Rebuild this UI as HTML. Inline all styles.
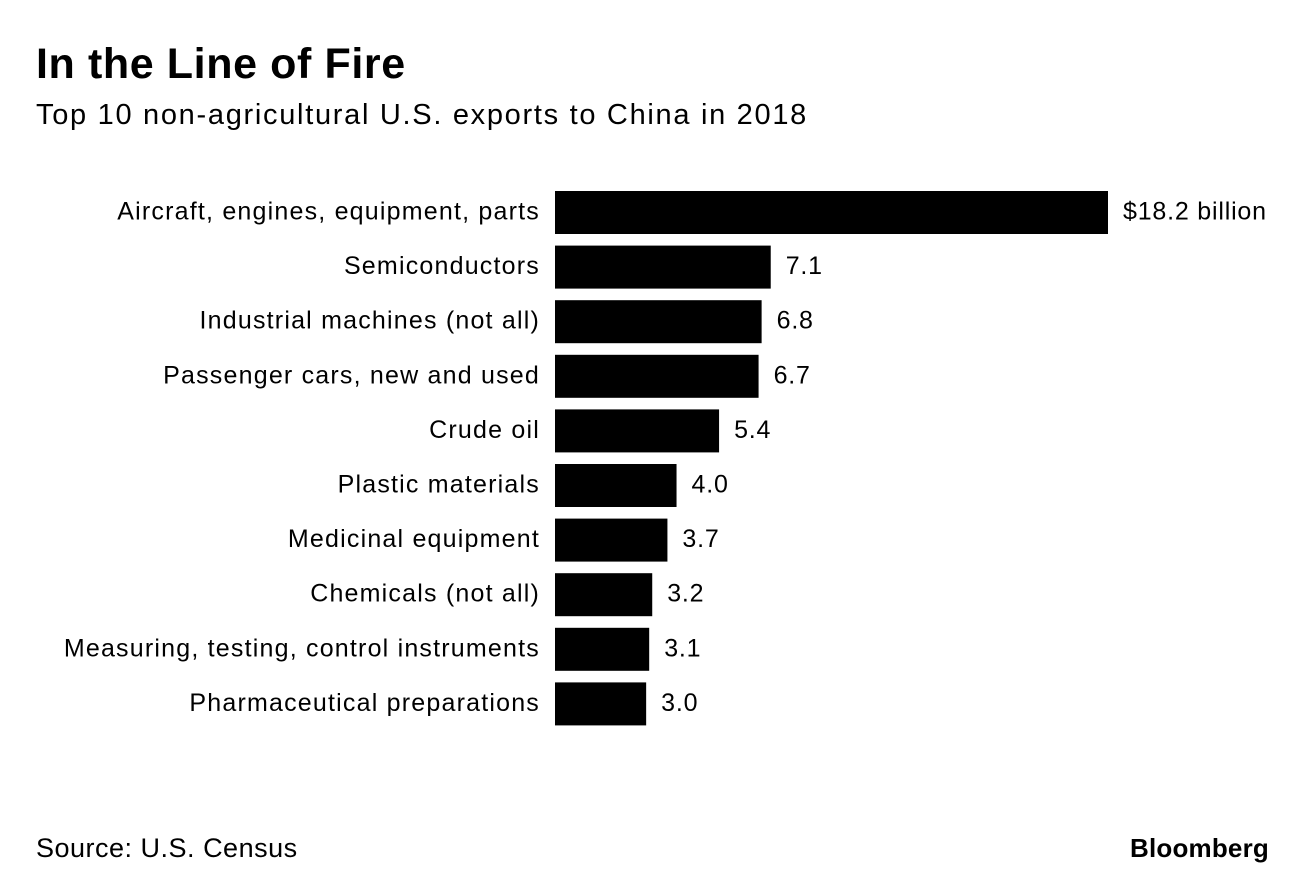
<!DOCTYPE html>
<html><head><meta charset="utf-8"><style>
body{margin:0;background:#fff;font-family:"Liberation Sans",Arial,sans-serif;color:#000}
#wrap{position:relative;width:1296px;height:880px;overflow:hidden}
.t{position:absolute;white-space:nowrap}
</style></head><body>
<div id="wrap">
<div class="t" style="left:36px;top:40px;font-size:43px;font-weight:bold;letter-spacing:0.6px">In the Line of Fire</div>
<div class="t" style="left:36px;top:99px;font-size:29px;letter-spacing:1.7px">Top 10 non-agricultural U.S. exports to China in 2018</div>
<svg id="chart" width="1296" height="880" style="position:absolute;left:0;top:0"></svg>
<div class="t" style="left:36px;top:833px;font-size:27px;letter-spacing:0.5px">Source: U.S. Census</div>
<div class="t" style="right:27px;top:833px;font-size:26px;font-weight:bold;letter-spacing:0.2px">Bloomberg</div>
</div>
<script>
const categories=["Aircraft, engines, equipment, parts","Semiconductors","Industrial machines (not all)","Passenger cars, new and used","Crude oil","Plastic materials","Medicinal equipment","Chemicals (not all)","Measuring, testing, control instruments","Pharmaceutical preparations"];
const values=[18.2,7.1,6.8,6.7,5.4,4.0,3.7,3.2,3.1,3.0];
const valueLabels=["$18.2 billion","7.1","6.8","6.7","5.4","4.0","3.7","3.2","3.1","3.0"];
const svg=document.getElementById('chart');
const NS='http://www.w3.org/2000/svg';
const x0=555,scale=553/18.2;
const xs=v=>x0+v*scale;
const ys=i=>191+i*54.6;
const bh=43;
categories.forEach((c,i)=>{
  const r=document.createElementNS(NS,'rect');
  r.setAttribute('x',x0);r.setAttribute('y',ys(i));
  r.setAttribute('width',xs(values[i])-x0);r.setAttribute('height',bh);
  r.setAttribute('fill','#000');
  
  
  svg.appendChild(r);
  const l=document.createElementNS(NS,'text');
  l.setAttribute('x',540);l.setAttribute('y',ys(i)+bh/2+7);
  l.setAttribute('text-anchor','end');l.setAttribute('font-size','25');
  l.setAttribute('letter-spacing','1.2');
  l.setAttribute('font-family','Liberation Sans, Arial, sans-serif');
  l.textContent=c;
  
  
  svg.appendChild(l);
  const v=document.createElementNS(NS,'text');
  v.setAttribute('x',xs(values[i])+15);v.setAttribute('y',ys(i)+bh/2+7);
  v.setAttribute('font-size','25');
  v.setAttribute('letter-spacing','0.8');
  v.setAttribute('font-family','Liberation Sans, Arial, sans-serif');
  v.textContent=valueLabels[i];
  
  
  svg.appendChild(v);
});
</script>
</body></html>
